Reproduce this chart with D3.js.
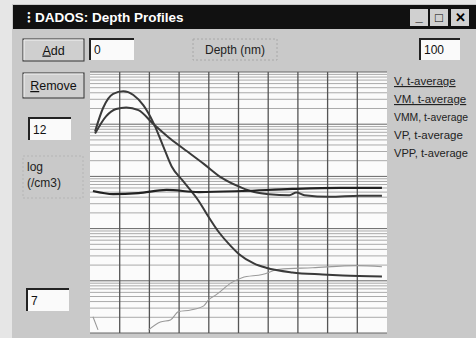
<!DOCTYPE html>
<html>
<head>
<meta charset="utf-8">
<script src="https://cdn.jsdelivr.net/npm/d3@7"></script>
<style>
  html, body { margin: 0; padding: 0; background: #d4d4d4; }
  svg { display: block; font-family: "Liberation Sans", Arial, sans-serif; }
</style>
</head>
<body>
<svg id="chart" width="476" height="338"></svg>
<script>
// depth (nm) and log10 concentration (/cm3)
const depthA = [1.7, 4.4, 7.8, 11.2, 14.6, 18.0, 21.4, 24.7, 27.5, 31.5, 36.6, 39.3, 43.4, 47.5, 50.2, 55.3, 59.3, 68.1, 78.3, 85.1, 98.3];
const logA   = [10.86, 11.31, 11.58, 11.63, 11.56, 11.36, 11.02, 10.57, 10.19, 9.90, 9.53, 9.28, 8.93, 8.66, 8.51, 8.33, 8.25, 8.16, 8.12, 8.10, 8.08];

const depthB = [1.7, 5.4, 8.8, 12.2, 16.3, 21.4, 26.4, 31.5, 38.3, 44.4, 51.2, 55.3, 60.3, 67.1, 69.5, 72.2, 80.7, 90.8, 98.3];
const logB   = [10.82, 11.15, 11.29, 11.32, 11.27, 11.0, 10.75, 10.53, 10.24, 9.97, 9.78, 9.70, 9.66, 9.64, 9.69, 9.64, 9.61, 9.63, 9.63];

const depthC = [1.0, 7.8, 16.3, 25.8, 36.6, 51.2, 68.1, 84.1, 98.3];
const logC   = [9.72, 9.66, 9.68, 9.74, 9.70, 9.72, 9.76, 9.78, 9.78];

// null = gap (below the 1e7 floor)
const depthD = [1.0, 2.7, 10.0, 19.7, 23.7, 27.1, 29.8, 33.9, 38.3, 40.0, 42.4, 47.8, 51.2, 58.0, 63.7, 74.9, 89.8, 98.3];
const logD   = [7.31, 7.06, null, 7.06, 7.21, 7.25, 7.41, 7.44, 7.52, 7.64, 7.73, 7.97, 8.06, 8.12, 8.22, 8.25, 8.29, 8.27];

const legendLabels = ["V, t-average", "VM, t-average", "VMM, t-average", "VP, t-average", "VPP, t-average"];
const depthRange = [0, 100];
const logRange = [7, 12];

const svg = d3.select("#chart");

// window chrome
svg.append("rect").attr("x", 0).attr("y", 0).attr("width", 476).attr("height", 338).attr("fill", "#e6e6e6");
svg.append("rect").attr("x", 12).attr("y", 4).attr("width", 464).attr("height", 334).attr("fill", "#c9c9c9");
svg.append("rect").attr("x", 13).attr("y", 5).attr("width", 463).attr("height", 24).attr("fill", "#111");
svg.append("text").text("\u205D").attr("x", 27).attr("y", 22).attr("fill", "#fff").attr("font-size", 14).attr("font-weight", "bold");
svg.append("text").text("DADOS:  Depth Profiles").attr("x", 35).attr("y", 22)
    .attr("fill", "#fff").attr("font-size", 13.5).attr("font-weight", "bold");

const winBtns = [{x: 410, g: "_"}, {x: 430, g: "\u25A1"}, {x: 451, g: "\u2715"}];
winBtns.forEach(b => {
    svg.append("rect").attr("x", b.x).attr("y", 9).attr("width", 18).attr("height", 17).attr("fill", "#d0d0d0");
    svg.append("text").text(b.g).attr("x", b.x + 9).attr("y", b.g === "_" ? 21 : 22)
        .attr("text-anchor", "middle").attr("font-size", 13).attr("font-weight", "bold").attr("fill", "#000");
});

// raised button, first letter underlined as a mnemonic
const button = (x, y, w, h, label) => {
    svg.append("rect").attr("x", x).attr("y", y).attr("width", w).attr("height", h).attr("fill", "#cfcfcf")
        .attr("stroke", "#333").attr("stroke-width", 1);
    svg.append("path").attr("d", `M${x + 1},${y + h - 1}V${y + 1}H${x + w - 1}`).attr("fill", "none").attr("stroke", "#f4f4f4");
    const t = svg.append("text").attr("x", x + w / 2).attr("y", y + h / 2 + 4.5)
        .attr("text-anchor", "middle").attr("font-size", 12.5).attr("fill", "#111");
    t.append("tspan").text(label[0]).attr("text-decoration", "underline");
    t.append("tspan").text(label.slice(1));
};
const textbox = (x, y, w, h, label) => {
    svg.append("rect").attr("x", x).attr("y", y).attr("width", w).attr("height", h).attr("fill", "#fafafa");
    svg.append("path").attr("d", `M${x},${y + h}V${y}H${x + w}`).attr("fill", "none").attr("stroke", "#222").attr("stroke-width", 2);
    svg.append("text").text(label).attr("x", x + 4).attr("y", y + h / 2 + 4.5).attr("font-size", 12).attr("fill", "#111");
};

button(23, 39, 61, 22, "Add");
button(23, 73, 61, 25, "Remove");
textbox(29, 118, 42, 22, "12");
textbox(27, 289, 42, 22, "7");
textbox(90, 39, 44, 21, "0");
textbox(420, 39, 40, 21, "100");

svg.append("rect").attr("x", 23).attr("y", 156).attr("width", 60).attr("height", 42)
    .attr("fill", "none").attr("stroke", "#b5b5b5").attr("stroke-dasharray", "2,2");
svg.append("text").text("log").attr("x", 27).attr("y", 171).attr("font-size", 12).attr("fill", "#222");
svg.append("text").text("(/cm3)").attr("x", 27).attr("y", 187).attr("font-size", 12).attr("fill", "#222");

svg.append("rect").attr("x", 193).attr("y", 39).attr("width", 84).attr("height", 21)
    .attr("fill", "none").attr("stroke", "#a8a8a8").attr("stroke-dasharray", "2,2");
svg.append("text").text("Depth (nm)").attr("x", 235).attr("y", 54).attr("text-anchor", "middle").attr("font-size", 12).attr("fill", "#222");

// legend (narrowed so the long names stay inside the window)
const legend = svg.append("g");
legendLabels.forEach((t, i) => {
    const el = legend.append("text").text(t).attr("x", 394).attr("y", 85 + i * 18)
        .attr("font-size", 11.5).attr("fill", "#222")
        .attr("text-decoration", i < 2 ? "underline" : "none");
    if (el.node().getComputedTextLength() > 74) {
        el.attr("textLength", 74).attr("lengthAdjust", "spacingAndGlyphs");
    }
});

// plot
const margins = { left: 90, right: 89, top: 72, bottom: 5 };
const pw = 476 - margins.left - margins.right;
const ph = 338 - margins.top - margins.bottom;

const x = d3.scaleLinear().domain(depthRange).range([margins.left, margins.left + pw]);
const y = d3.scaleLog().domain(logRange.map(v => Math.pow(10, v))).range([margins.top + ph, margins.top]);

svg.append("rect").attr("x", margins.left).attr("y", margins.top).attr("width", pw).attr("height", ph).attr("fill", "#fbfbfb");

const minorTicks = y.ticks();
svg.append("g").selectAll("line").data(minorTicks).join("line")
    .attr("x1", margins.left).attr("x2", margins.left + pw)
    .attr("y1", d => y(d)).attr("y2", d => y(d))
    .attr("stroke", d => Math.abs(Math.log10(d) % 1) < 1e-9 ? "#666" : "#aaa")
    .attr("stroke-width", 1);

svg.append("g").selectAll("line").data(x.ticks(10).slice(1, -1)).join("line")
    .attr("x1", d => x(d)).attr("x2", d => x(d))
    .attr("y1", margins.top).attr("y2", margins.top + ph)
    .attr("stroke", "#555").attr("stroke-width", 1.3);

svg.append("defs").append("clipPath").attr("id", "clip").append("rect")
    .attr("x", margins.left).attr("y", margins.top).attr("width", pw).attr("height", ph);

const line = d3.line()
    .defined(d => d[1] !== null)
    .x(d => x(d[0]))
    .y(d => y(Math.pow(10, d[1])))
    .curve(d3.curveMonotoneX);

const series = [
    { depth: depthD, log: logD, color: "#9a9a9a", w: 1.1 },
    { depth: depthA, log: logA, color: "#3a3a3a", w: 2 },
    { depth: depthB, log: logB, color: "#3a3a3a", w: 2 },
    { depth: depthC, log: logC, color: "#222", w: 2.2 },
];

svg.append("g").attr("clip-path", "url(#clip)")
    .selectAll("path").data(series).join("path")
    .attr("d", s => line(s.depth.map((d, i) => [d, s.log[i]])))
    .attr("fill", "none")
    .attr("stroke", s => s.color)
    .attr("stroke-width", s => s.w);
</script>
</body>
</html>
